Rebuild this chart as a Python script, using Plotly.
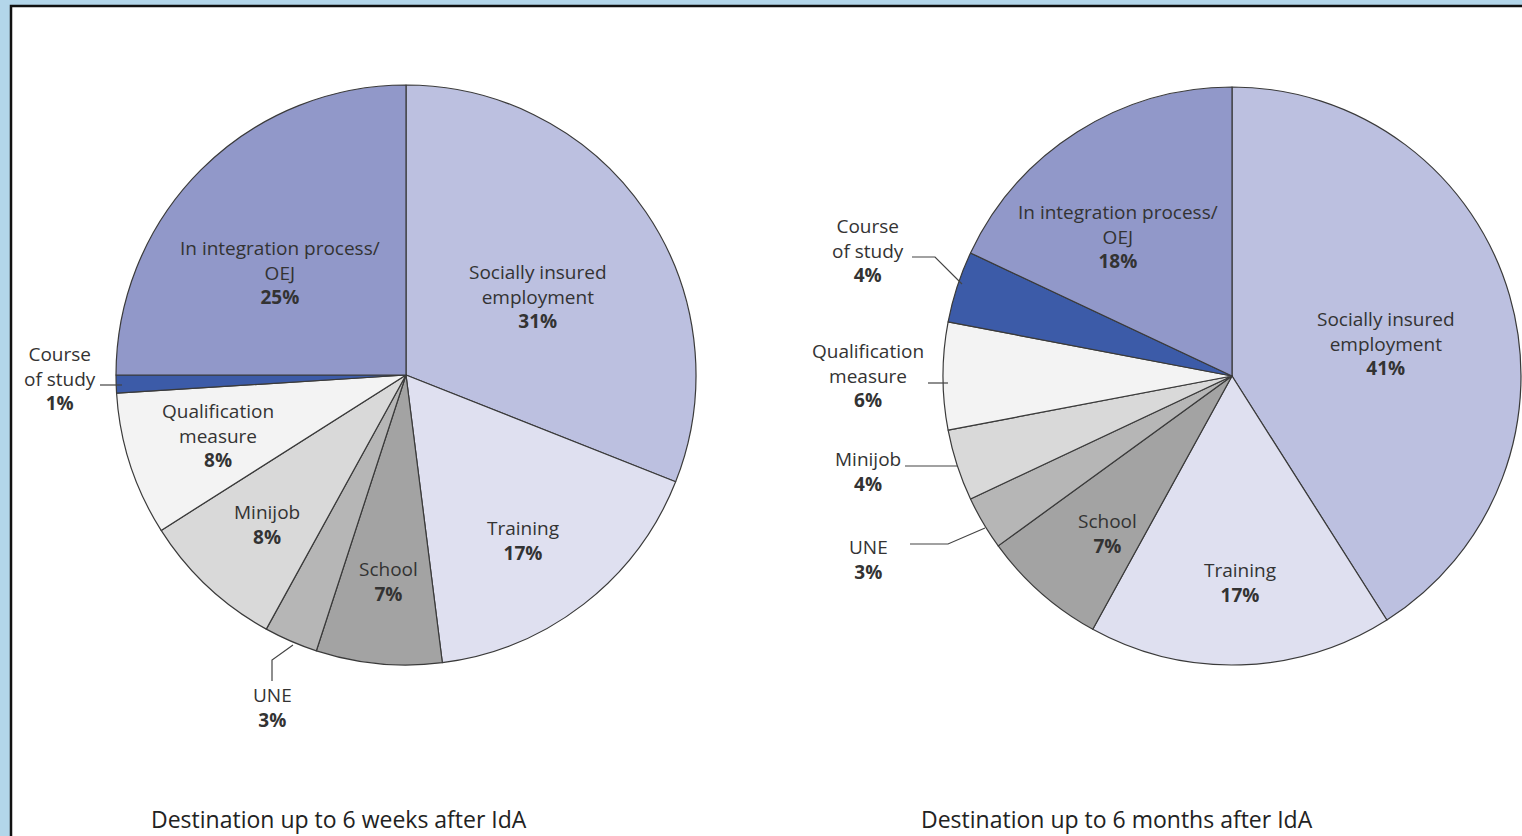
import plotly.graph_objects as go

W, H = 1522, 836

categories = ["Socially insured employment", "Training", "School", "UNE", "Minijob",
              "Qualification measure", "Course of study", "In integration process/OEJ"]
weeks6_values = [31, 17, 7, 3, 8, 8, 1, 25]
months6_values = [41, 17, 7, 3, 4, 6, 4, 18]
titles = ["Destination up to 6 weeks after IdA", "Destination up to 6 months after IdA"]

slice_colors = ["#bcc0e0", "#dfe0f0", "#a3a3a3", "#b6b6b6", "#d9d9d9",
                "#f3f3f3", "#3c5ba8", "#9198c9"]

label_lines = {
    "Socially insured employment": "Socially insured<br>employment",
    "Training": "Training",
    "School": "School",
    "UNE": "UNE",
    "Minijob": "Minijob",
    "Qualification measure": "Qualification<br>measure",
    "Course of study": "Course<br>of study",
    "In integration process/OEJ": "In integration process/<br>OEJ",
}

# label centre positions in pixels (layout)
left_label_pos = {
    "Socially insured employment": (538, 296),
    "Training": (523, 540),
    "School": (389, 581),
    "UNE": (272, 707),
    "Minijob": (267, 524),
    "Qualification measure": (218, 435),
    "Course of study": (60, 378),
    "In integration process/OEJ": (280, 273),
}
right_label_pos = {
    "Socially insured employment": (1386, 343),
    "Training": (1240, 582),
    "School": (1107, 533),
    "UNE": (868, 559),
    "Minijob": (868, 472),
    "Qualification measure": (868, 375),
    "Course of study": (868, 250),
    "In integration process/OEJ": (1118, 236),
}
left_leaders = [
    [(100, 385), (122, 385)],
    [(272, 681), (272, 660), (293, 645)],
]
right_leaders = [
    [(912, 257), (935, 257), (962, 284)],
    [(928, 383), (948, 383)],
    [(905, 466), (957, 466)],
    [(910, 544), (948, 544), (985, 528)],
]


def px(x):
    return x / W


def py(y):
    return 1 - y / H


def domain(cx, cy, r):
    return dict(x=[max(0, px(cx - r)), min(1, px(cx + r))],
                y=[max(0, py(cy + r)), min(1, py(cy - r))])


FONT = "Open Sans"
TXT = "#333333"

fig = go.Figure()
for vals, dom, name in [(weeks6_values, domain(406, 375, 290), "6 weeks"),
                        (months6_values, domain(1232, 376, 289), "6 months")]:
    fig.add_trace(go.Pie(
        labels=categories, values=vals, name=name, sort=False, direction="clockwise",
        rotation=0, textinfo="none", domain=dom, showlegend=False,
        marker=dict(colors=slice_colors, line=dict(color="#3a3a3a", width=1.2)),
    ))

annotations = []
for vals, pos in [(weeks6_values, left_label_pos), (months6_values, right_label_pos)]:
    for cat, v in zip(categories, vals):
        x, y = pos[cat]
        annotations.append(dict(
            x=px(x), y=py(y), xref="paper", yref="paper", showarrow=False,
            xanchor="center", yanchor="middle", align="center",
            text=f"{label_lines[cat]}<br><b>{v}%</b>",
            font=dict(family=FONT, size=19, color=TXT),
        ))

for t, x in zip(titles, [339, 1117]):
    annotations.append(dict(
        x=px(x), y=py(819), xref="paper", yref="paper", showarrow=False,
        xanchor="center", yanchor="middle", text=t,
        font=dict(family=FONT, size=23, color="#222222"),
    ))

shapes = [dict(type="rect", xref="paper", yref="paper", x0=px(11), x1=1.02,
               y0=-0.02, y1=py(6), fillcolor="white",
               line=dict(color="#111111", width=2.5), layer="below")]
for seg in left_leaders + right_leaders:
    path = "M " + " L ".join(f"{px(a)},{py(b)}" for a, b in seg)
    shapes.append(dict(type="path", xref="paper", yref="paper", path=path,
                       line=dict(color="#444444", width=1.2)))

fig.update_layout(
    width=W, height=H, margin=dict(l=0, r=0, t=0, b=0),
    paper_bgcolor="#b3d6ea", plot_bgcolor="white",
    annotations=annotations, shapes=shapes,
    font=dict(family=FONT, color=TXT),
)

fig.write_html("out.html", config={"displayModeBar": False},
               post_script="document.body.style.margin='0';document.body.style.overflow='hidden';")
